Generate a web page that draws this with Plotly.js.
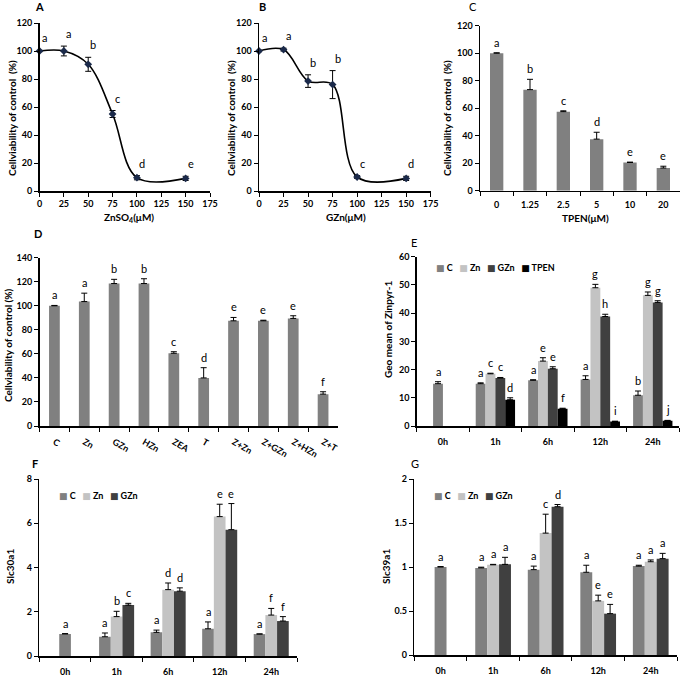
<!DOCTYPE html>
<html>
<head>
<meta charset="utf-8">
<script src="https://cdn.plot.ly/plotly-3.0.1.min.js"></script>
<style>html,body{margin:0;padding:0;background:#fff;}#chart{width:685px;height:677px;}</style>
</head>
<body>
<div id="chart"></div>
<script>
// ---------------- DATA ----------------
// Panel A: ZnSO4
const A_conc = [0, 25, 50, 75, 100, 150];
const A_val  = [100, 100, 90.5, 55, 9.5, 9];
const A_err  = [0.5, 3.5, 5, 2.5, 1.5, 1.5];
const A_let  = ['a', 'a', 'b', 'c', 'd', 'e'];
// Panel B: GZn
const B_conc = [0, 25, 50, 75, 100, 150];
const B_val  = [100, 101, 78.5, 76, 10, 9];
const B_err  = [0.5, 1, 4.5, 10, 1, 1.5];
const B_let  = ['a', 'a', 'b', 'b', 'c', 'd'];
// Panel C: TPEN
const C_cat = ['0', '1.25', '2.5', '5', '10', '20'];
const C_val = [100, 73.5, 57.5, 37.5, 20.5, 16.5];
const C_err = [0.3, 7.5, 0.6, 5, 0.3, 1.3];
const C_let = ['a', 'b', 'c', 'd', 'e', 'e'];
// Panel D
const D_cat = ['C', 'Zn', 'GZn', 'HZn', 'ZEA', 'T', 'Z+Zn', 'Z+GZn', 'Z+HZn', 'Z+T'];
const D_val = [100, 103.5, 118.5, 118.5, 60.5, 40, 87.5, 87.5, 89.5, 26.5];
const D_err = [0.3, 7, 3.5, 4, 1.3, 8.5, 2.8, 0.5, 2.2, 2];
const D_let = ['a', 'a', 'b', 'b', 'c', 'd', 'e', 'e', 'e', 'f'];
// Time points for E, F, G
const times = ['0h', '1h', '6h', '12h', '24h'];
// Panel E: Geo mean of Zinpyr-1
const E_names = ['C', 'Zn', 'GZn', 'TPEN'];
const E_C      = [15, 15, 16.2, 16.5, 10.9];
const E_C_err  = [0.7, 0.3, 0.2, 1.3, 1.5];
const E_C_let  = ['a', 'a', 'a', 'a', 'b'];
const E_Zn     = [null, 18.5, 23, 49, 46.3];
const E_Zn_err = [0, 0.2, 1.2, 1.2, 1.2];
const E_Zn_let = ['', 'c', 'e', 'g', 'g'];
const E_GZn     = [null, 17, 20.3, 38.8, 43.8];
const E_GZn_err = [0, 0.2, 0.7, 0.8, 0.6];
const E_GZn_let = ['', 'c', 'e', 'h', 'g'];
const E_TPEN     = [null, 9.3, 6.1, 1.6, 1.9];
const E_TPEN_err = [0, 0.7, 0.2, 0.1, 0.1];
const E_TPEN_let = ['', 'd', 'f', 'i', 'j'];
// Panel F: Slc30a1
const F_names = ['C', 'Zn', 'GZn'];
const F_C      = [1.0, 0.87, 1.07, 1.23, 0.99];
const F_C_err  = [0.01, 0.17, 0.1, 0.31, 0.01];
const F_C_let  = ['a', 'a', 'a', 'a', 'a'];
const F_Zn     = [null, 1.78, 3.0, 6.3, 1.85];
const F_Zn_err = [0, 0.24, 0.3, 0.56, 0.3];
const F_Zn_let = ['', 'b', 'd', 'e', 'f'];
const F_GZn     = [null, 2.3, 2.93, 5.71, 1.58];
const F_GZn_err = [0, 0.08, 0.15, 1.18, 0.2];
const F_GZn_let = ['', 'c', 'd', 'e', 'f'];
// Panel G: Slc39a1
const G_names = ['C', 'Zn', 'GZn'];
const G_C      = [1.0, 0.99, 0.97, 0.94, 1.01];
const G_C_err  = [0.005, 0.008, 0.04, 0.08, 0.01];
const G_C_let  = ['a', 'a', 'a', 'a', 'a'];
const G_Zn     = [null, 1.025, 1.385, 0.615, 1.06];
const G_Zn_err = [0, 0.005, 0.215, 0.065, 0.02];
const G_Zn_let = ['', 'a', 'c', 'e', 'a'];
const G_GZn     = [null, 1.03, 1.685, 0.47, 1.095];
const G_GZn_err = [0, 0.08, 0.025, 0.105, 0.06];
const G_GZn_let = ['', 'a', 'd', 'e', 'a'];

// ---------------- STYLE / LAYOUT HELPERS ----------------
const W = 685, H = 677;
const FONT = 'Lato, "Open Sans", "DejaVu Sans", sans-serif';
const COLORS = {C: '#808080', Zn: '#c3c3c3', GZn: '#404040', TPEN: '#000000'};
const px = (a, b) => [a / W, b / W];
const py = (top, bottom) => [1 - bottom / H, 1 - top / H];

const traces = [];
const annotations = [];
const layout = {
  width: W, height: H, margin: {l: 0, r: 0, t: 0, b: 0},
  paper_bgcolor: '#fff', plot_bgcolor: 'rgba(0,0,0,0)',
  showlegend: false, annotations: annotations,
  font: {family: FONT, color: '#000'}
};

function axis(extra) {
  return Object.assign({
    showline: true, linecolor: '#000', linewidth: 1.5,
    ticks: 'outside', ticklen: 4, tickwidth: 1, tickcolor: '#000',
    showgrid: false, zeroline: false, fixedrange: true,
    tickfont: {family: FONT, size: 9, color: '#000', weight: 'bold'}
  }, extra);
}

function setAxes(i, xDom, yDom, xExtra, yExtra) {
  const xk = i === 1 ? 'xaxis' : 'xaxis' + i;
  const yk = i === 1 ? 'yaxis' : 'yaxis' + i;
  layout[xk] = axis(Object.assign({domain: xDom, anchor: 'y' + (i === 1 ? '' : i)}, xExtra));
  layout[yk] = axis(Object.assign({domain: yDom, anchor: 'x' + (i === 1 ? '' : i)}, yExtra));
  return {x: 'x' + (i === 1 ? '' : i), y: 'y' + (i === 1 ? '' : i)};
}

function letter(ax, x, y, t, xshift, yshift) {
  if (!t) return;
  annotations.push({xref: ax.x, yref: ax.y, x: x, y: y, text: t, showarrow: false,
    xanchor: 'center', yanchor: 'bottom', xshift: xshift || 0, yshift: yshift || 0,
    font: {family: FONT, size: 11, color: '#000'}});
}

function paperText(t, x, y, opts) {
  annotations.push(Object.assign({xref: 'paper', yref: 'paper', x: x / W, y: 1 - y / H,
    text: t, showarrow: false, xanchor: 'center', yanchor: 'middle',
    font: {family: FONT, size: 10, color: '#000', weight: 'bold'}}, opts || {}));
}

// -------- Line panels (A, B) --------
function linePanel(i, xDom, yDom, conc, val, err, lets, letterShift) {
  const ax = setAxes(i, xDom, yDom,
    {range: [0, 175], dtick: 25, tick0: 0, ticklabelstandoff: 0},
    {range: [0, 120], dtick: 20, tick0: 0});
  traces.push({type: 'scatter', mode: 'lines+markers', x: conc, y: val, xaxis: ax.x, yaxis: ax.y,
    line: {color: '#000', width: 1.6, shape: 'spline', smoothing: 1},
    marker: {symbol: 'diamond', size: 6, color: '#1b2a4a'},
    error_y: {type: 'data', array: err, symmetric: true, color: '#000', thickness: 1, width: 3},
    cliponaxis: false, hoverinfo: 'x+y'});
  conc.forEach((c, k) => letter(ax, c, val[k] + err[k], lets[k], letterShift, 4));
  return ax;
}

const axA = linePanel(1, px(39.5, 210), py(23, 191), A_conc, A_val, A_err, A_let, 5);
const axB = linePanel(2, px(259, 430.7), py(23, 191), B_conc, B_val, B_err, B_let, 5);

// -------- Simple bar panels (C, D) --------
function simpleBarPanel(i, xDom, yDom, cats, val, err, lets, width, yMax, dtick, standoff) {
  const ax = setAxes(i, xDom, yDom,
    {type: 'category', tickson: 'boundaries', range: [-0.5, cats.length - 0.5], ticklabelstandoff: standoff},
    {range: [0, yMax], dtick: dtick, tick0: 0});
  traces.push({type: 'bar', x: cats, y: val, xaxis: ax.x, yaxis: ax.y, width: width,
    marker: {color: COLORS.C, line: {width: 0}},
    error_y: {type: 'data', array: err, arrayminus: val.map(() => 0), symmetric: false,
      color: '#000', thickness: 1, width: 3}});
  cats.forEach((c, k) => letter(ax, k, val[k] + err[k], lets[k], 0, 2));
  return ax;
}

const axC = simpleBarPanel(3, px(480, 680), py(25.7, 190.7), C_cat, C_val, C_err, C_let, 0.4, 120, 20, 5);
const axD = simpleBarPanel(4, px(39.5, 338), py(257.7, 426), D_cat, D_val, D_err, D_let, 0.36, 140, 20, 6);

// -------- Grouped bar panels (E, F, G) --------
function groupPanel(i, xDom, yDom, series, groupFrac, yMax, dtick) {
  const ax = setAxes(i, xDom, yDom,
    {type: 'category', tickson: 'boundaries', range: [-0.5, times.length - 0.5], ticklabelstandoff: 7},
    {range: [0, yMax], dtick: dtick, tick0: 0});
  const n = series.length;
  const w = groupFrac / n;
  const base = -groupFrac / 2;
  series.forEach((s, k) => {
    // the 0h control bar sits in the second slot (as in the original figure)
    const offs = times.map((t, j) => base + ((k === 0 && j === 0) ? 1 : k) * w);
    traces.push({type: 'bar', name: s.name, x: times, y: s.val, xaxis: ax.x, yaxis: ax.y,
      width: w, offset: offs, marker: {color: COLORS[s.name], line: {width: 0}},
      error_y: {type: 'data', array: s.err, arrayminus: s.err.map(() => 0), symmetric: false,
        color: '#000', thickness: 1, width: 3}});
    times.forEach((t, j) => {
      if (s.val[j] !== null) letter(ax, j + offs[j] + w / 2, s.val[j] + s.err[j], s.lets[j], 0, 2);
    });
  });
  return ax;
}

function legendText(names) {
  return names.map(nm => '<span style="color:' + COLORS[nm] + '">■</span> ' + nm)
    .join('&nbsp;&nbsp;&nbsp;');
}

const axE = groupPanel(5, px(416.7, 679), py(256.7, 426), [
  {name: 'C', val: E_C, err: E_C_err, lets: E_C_let},
  {name: 'Zn', val: E_Zn, err: E_Zn_err, lets: E_Zn_let},
  {name: 'GZn', val: E_GZn, err: E_GZn_err, lets: E_GZn_let},
  {name: 'TPEN', val: E_TPEN, err: E_TPEN_err, lets: E_TPEN_let}
], 0.75, 60, 10);

const axF = groupPanel(6, px(39.3, 297), py(479, 656), [
  {name: 'C', val: F_C, err: F_C_err, lets: F_C_let},
  {name: 'Zn', val: F_Zn, err: F_Zn_err, lets: F_Zn_let},
  {name: 'GZn', val: F_GZn, err: F_GZn_err, lets: F_GZn_let}
], 0.68, 8, 2);

const axG = groupPanel(7, px(414.3, 677), py(479, 655), [
  {name: 'C', val: G_C, err: G_C_err, lets: G_C_let},
  {name: 'Zn', val: G_Zn, err: G_Zn_err, lets: G_Zn_let},
  {name: 'GZn', val: G_GZn, err: G_GZn_err, lets: G_GZn_let}
], 0.68, 2, 0.5);

// legends (Excel-style compact)
const legFont = {family: FONT, size: 9, color: '#000', weight: 'bold'};
paperText(legendText(E_names), 434, 268, {xanchor: 'left', font: legFont});
paperText(legendText(F_names), 57, 495, {xanchor: 'left', font: legFont});
paperText(legendText(G_names), 432, 495, {xanchor: 'left', font: legFont});

// panel letters
paperText('A', 39, 7, {font: {family: FONT, size: 11, color: '#000', weight: 'bold'}});
paperText('B', 262, 7, {font: {family: FONT, size: 11, color: '#000', weight: 'bold'}});
paperText('C', 473, 7, {font: {family: FONT, size: 11, color: '#000'}});
paperText('D', 38, 233, {font: {family: FONT, size: 11, color: '#000', weight: 'bold'}});
paperText('E', 414, 242, {font: {family: FONT, size: 11, color: '#000'}});
paperText('F', 35, 463, {font: {family: FONT, size: 11, color: '#000', weight: 'bold'}});
paperText('G', 415, 463, {font: {family: FONT, size: 11, color: '#000'}});

// axis titles
const yt = {textangle: -90, font: {family: FONT, size: 10, color: '#000', weight: 'bold'}};
paperText('Cellviability of control  (%)', 12, 118, yt);
paperText('Cellviability of control  (%)', 231, 118, yt);
paperText('Cellviability of control  (%)', 447, 118, yt);
paperText('Cellviability of control (%)', 8, 345, yt);
paperText('Geo mean of Zinpyr-1', 388, 330, yt);
paperText('Slc30a1', 10, 567, yt);
paperText('Slc39a1', 386, 567, yt);
const xt = {font: {family: FONT, size: 10, color: '#000', weight: 'bold'}};
paperText('ZnSO<sub>4</sub>(μM)', 129, 217, xt);
paperText('GZn(μM)', 346, 217, xt);
paperText('TPEN(μM)', 585, 218, xt);

Plotly.newPlot('chart', traces, layout, {displayModeBar: false, staticPlot: true});
</script>
</body>
</html>
